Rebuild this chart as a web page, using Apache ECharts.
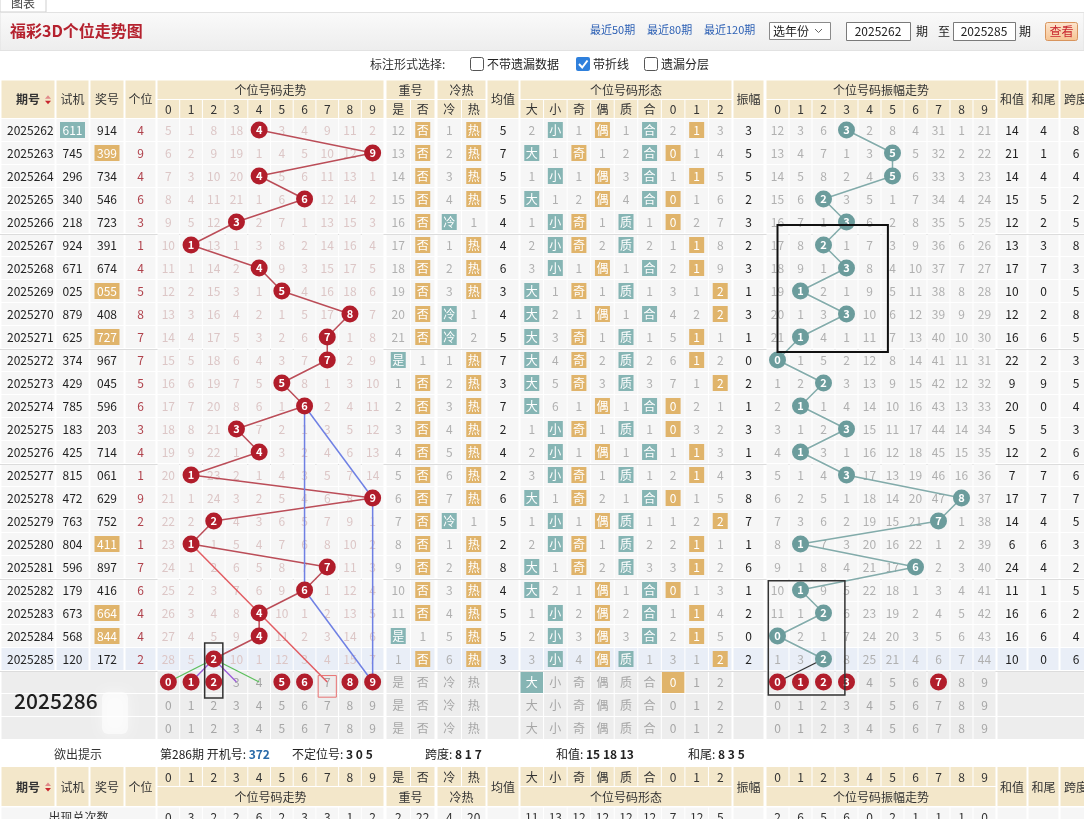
<!DOCTYPE html>
<html><head><meta charset="utf-8">
<script src="https://cdn.jsdelivr.net/npm/echarts@6/dist/echarts.min.js"></script>
<style>html,body{margin:0;padding:0;background:#fff}#c{width:1084px;height:819px}</style>
</head><body><div id="c"></div><script>
// ---------------- DATA ----------------
const periods = ['2025262','2025263','2025264','2025265','2025266','2025267','2025268','2025269','2025270','2025271','2025272','2025273','2025274','2025275','2025276','2025277','2025278','2025279','2025280','2025281','2025282','2025283','2025284','2025285'];
const shiji = ['611','745','296','340','218','924','671','025','879','625','374','429','785','183','425','815','472','763','804','596','179','673','568','120'];
const jianghao = ['914','399','734','546','723','391','674','055','408','727','967','045','596','203','714','061','629','752','411','897','416','664','844','172'];
const gewei = [4,9,4,6,3,1,4,5,8,7,7,5,6,3,4,1,9,2,1,7,6,4,4,2];
// trend omissions 0-9 (0 = drawn number)
const trendMiss = [
[5,1,8,18,0,3,4,9,11,2],[6,2,9,19,1,4,5,10,12,0],[7,3,10,20,0,5,6,11,13,1],[8,4,11,21,1,6,0,12,14,2],[9,5,12,0,2,7,1,13,15,3],
[10,0,13,1,3,8,2,14,16,4],[11,1,14,2,0,9,3,15,17,5],[12,2,15,3,1,0,4,16,18,6],[13,3,16,4,2,1,5,17,0,7],[14,4,17,5,3,2,6,0,1,8],
[15,5,18,6,4,3,7,0,2,9],[16,6,19,7,5,0,8,1,3,10],[17,7,20,8,6,1,0,2,4,11],[18,8,21,0,7,2,1,3,5,12],[19,9,22,1,0,3,2,4,6,13],
[20,0,23,2,1,4,3,5,7,14],[21,1,24,3,2,5,4,6,8,0],[22,2,0,4,3,6,5,7,9,1],[23,0,1,5,4,7,6,8,10,2],[24,1,2,6,5,8,7,0,11,3],
[25,2,3,7,6,9,0,1,12,4],[26,3,4,8,0,10,1,2,13,5],[27,4,5,9,0,11,2,3,14,6],[28,5,0,10,1,12,3,4,15,7]];
const repeatMiss = [[12,0],[13,0],[14,0],[15,0],[16,0],[17,0],[18,0],[19,0],[20,0],[21,0],[0,1],[1,0],[2,0],[3,0],[4,0],[5,0],[6,0],[7,0],[8,0],[9,0],[10,0],[11,0],[0,1],[1,0]];
const coldHotMiss = [[1,0],[2,0],[3,0],[4,0],[0,1],[1,0],[2,0],[3,0],[0,1],[0,2],[1,0],[2,0],[3,0],[4,0],[5,0],[6,0],[7,0],[0,1],[1,0],[2,0],[3,0],[4,0],[5,0],[6,0]];
const junzhi = [5,7,5,5,4,4,6,3,4,5,7,3,7,2,4,2,6,5,2,8,4,5,5,3];
const shapeMiss = [
[2,0,1,0,1,0,2,0,3],[0,1,0,1,2,0,0,1,4],[1,0,1,0,3,0,1,0,5],[0,1,2,0,4,0,0,1,6],[1,0,0,1,0,1,0,2,7],
[2,0,0,2,0,2,1,0,8],[3,0,1,0,1,0,2,0,9],[0,1,0,1,0,1,3,1,0],[0,2,1,0,1,0,4,2,0],[0,3,0,1,0,1,5,0,1],
[0,4,0,2,0,2,6,0,2],[0,5,0,3,0,3,7,1,0],[0,6,1,0,1,0,0,2,1],[1,0,0,1,0,1,0,3,2],[2,0,1,0,1,0,1,0,3],
[3,0,0,1,0,1,2,0,4],[0,1,0,2,1,0,0,1,5],[1,0,1,0,0,1,1,2,0],[2,0,0,1,0,2,2,0,1],[0,1,0,2,0,3,3,0,2],
[0,2,1,0,1,0,0,1,3],[1,0,2,0,2,0,1,0,4],[2,0,3,0,3,0,2,0,5],[3,0,4,0,0,1,3,1,0]];
const zhenfu = [3,5,5,2,3,2,3,1,3,1,0,2,1,3,1,3,8,7,1,6,1,2,0,2];
const ampMiss = [
[12,3,6,0,2,8,4,31,1,21],[13,4,7,1,3,0,5,32,2,22],[14,5,8,2,4,0,6,33,3,23],[15,6,0,3,5,1,7,34,4,24],[16,7,1,0,6,2,8,35,5,25],
[17,8,0,1,7,3,9,36,6,26],[18,9,1,0,8,4,10,37,7,27],[19,0,2,1,9,5,11,38,8,28],[20,1,3,0,10,6,12,39,9,29],[21,0,4,1,11,7,13,40,10,30],
[0,1,5,2,12,8,14,41,11,31],[1,2,0,3,13,9,15,42,12,32],[2,0,1,4,14,10,16,43,13,33],[3,1,2,0,15,11,17,44,14,34],[4,0,3,1,16,12,18,45,15,35],
[5,1,4,0,17,13,19,46,16,36],[6,2,5,1,18,14,20,47,0,37],[7,3,6,2,19,15,21,0,1,38],[8,0,7,3,20,16,22,1,2,39],[9,1,8,4,21,17,0,2,3,40],
[10,0,9,5,22,18,1,3,4,41],[11,1,0,6,23,19,2,4,5,42],[0,2,1,7,24,20,3,5,6,43],[1,3,0,8,25,21,4,6,7,44]];
const hezhi = [14,21,14,15,12,13,17,10,12,16,22,9,20,5,12,7,17,14,6,24,11,16,16,10];
const hewei = [4,1,4,5,2,3,7,0,2,6,2,9,0,5,2,7,7,4,6,4,1,6,6,0];
const kuadu = [8,6,4,2,5,8,3,5,8,5,3,5,4,3,6,6,7,5,3,2,5,2,4,6];
// labels
const digitLabels = ['0','1','2','3','4','5','6','7','8','9'];
const repLabels = ['是','否'];
const chLabels = ['冷','热'];
const shapeLabels = ['大','小','奇','偶','质','合','0','1','2'];
// prediction rows
const predPeriod = '2025286';
const predTrend = [0,1,2,5,6,8,9];
const predAmp = [0,1,2,3,7];
const predShape = [0,6];
// totals
const trendTotals = [0,3,2,2,6,2,3,3,1,2];
const repTotals = [2,22];
const chTotals = [4,20];
const shapeTotals = [11,13,12,12,12,12,7,12,5];
const ampTotals = [2,6,5,6,0,2,1,1,1,0];
// annotation links [digit,row]
const linksGreen = [[[2,23],[0,24]],[[2,23],[4,24]]];
const linksPurple = [[[2,23],[1,24]],[[2,23],[3,24]]];
const linksBlue = [[[6,12],[6,20]],[[6,12],[9,16]],[[9,16],[9,24]],[[6,20],[9,24]]];
const linksRed = [[[1,18],[7,24]]];
const linksAmp = [[[2,23],[0,24]]];
const boxesTrend = [[[1.6,22.3],[2.4,24.7]],[[6.6,23.72],[7.4,24.66]]];
const boxesAmp = [[[0,4.13],[4.8,9.65]],[[-0.4,19.6],[2.93,24.57]]];

// ---------------- STYLE / LAYOUT ----------------
const FONT = '"Noto Sans CJK SC","Noto Sans",sans-serif';
const TEAL = '#86b5b4', ORANGE = '#e0b46b', RED = '#b11d2b', TEALC = '#6b9c9c';
const CELL_BG = '#f6f6f6', HL_BG = '#e9eef7', PRED_BG = '#ededed', HEAD_BG = '#f3e7ca';
const MISS_T = '#dcc6c6', MISS_G = '#b0b0b0', PRED_G = '#a6a6a6';
const ROW_TOP = 118.5, ROW_H = 23, NROWS = 27;
const L = {qh:[1,55],sj:[56,89],jh:[90,124],gw:[125,156],trend:[157,384],rep:[386,435],ch:[437,486],jz:[487,519],shape:[520,732],amp:[733,764],ampT:[766,996],sum:[997,1027],tail:[1028,1059],span:[1060,1092]};
const repHit = [TEAL, ORANGE], chHit = [TEAL, ORANGE];
const shapeHit = [TEAL,TEAL,ORANGE,ORANGE,TEAL,TEAL,ORANGE,ORANGE,ORANGE];
function split(r, n){const w=(r[1]-r[0])/n;return Array.from({length:n},(_,k)=>[r[0]+k*w,r[0]+(k+1)*w]);}
const isPair = s => new Set(s.split('')).size < 3;

// ---------------- CELLS ----------------
const cells0 = [], cells1 = [], cells2 = [];
function addMissGroup(range, labels, hits, miss, row, bg){
  split(range, labels.length).forEach(([a,b],k)=>{
    const v = miss[k];
    cells0.push({x0:a,x1:b,row,text: v===0?labels[k]:v, color: v===0?'#fff':MISS_G, badge: v===0?hits[k]:null, bg});
  });
}
for (let i=0;i<periods.length;i++){
  const bg = i===periods.length-1 ? HL_BG : CELL_BG;
  cells0.push({x0:L.qh[0],x1:L.qh[1],row:i,text:periods[i],align:'left',color:'#222',bg});
  cells0.push({x0:L.sj[0],x1:L.sj[1],row:i,text:shiji[i],color:isPair(shiji[i])?'#fff':'#222',badge:isPair(shiji[i])?TEAL:null,badgeW:25,bg});
  cells0.push({x0:L.jh[0],x1:L.jh[1],row:i,text:jianghao[i],color:isPair(jianghao[i])?'#fff':'#222',badge:isPair(jianghao[i])?ORANGE:null,badgeW:25,bg});
  cells0.push({x0:L.gw[0],x1:L.gw[1],row:i,text:gewei[i],color:'#b0424c',bg});
  addMissGroup(L.rep, repLabels, repHit, repeatMiss[i], i, bg);
  addMissGroup(L.ch, chLabels, chHit, coldHotMiss[i], i, bg);
  cells0.push({x0:L.jz[0],x1:L.jz[1],row:i,text:junzhi[i],color:'#222',bg});
  addMissGroup(L.shape, shapeLabels, shapeHit, shapeMiss[i], i, bg);
  cells0.push({x0:L.amp[0],x1:L.amp[1],row:i,text:zhenfu[i],color:'#222',bg});
  cells0.push({x0:L.sum[0],x1:L.sum[1],row:i,text:hezhi[i],color:'#222',bg});
  cells0.push({x0:L.tail[0],x1:L.tail[1],row:i,text:hewei[i],color:'#222',bg});
  cells0.push({x0:L.span[0],x1:L.span[1],row:i,text:kuadu[i],color:'#222',bg});
  for (let d=0; d<10; d++){
    cells1.push({x0:d-0.5,x1:d+0.5,row:i,text:trendMiss[i][d]===0?'':trendMiss[i][d],color:MISS_T,bg});
    cells2.push({x0:d-0.5,x1:d+0.5,row:i,text:ampMiss[i][d]===0?'':ampMiss[i][d],color:MISS_G,bg});
  }
}
for (let r=24;r<27;r++){
  const bg = PRED_BG, first = r===24;
  cells0.push({x0:L.qh[0],x1:L.gw[1],row:r,text:'',bg});
  split(L.rep,2).forEach(([a,b],k)=>cells0.push({x0:a,x1:b,row:r,text:repLabels[k],color:PRED_G,bg}));
  split(L.ch,2).forEach(([a,b],k)=>cells0.push({x0:a,x1:b,row:r,text:chLabels[k],color:PRED_G,bg}));
  cells0.push({x0:L.jz[0],x1:L.jz[1],row:r,text:'',bg});
  split(L.shape,9).forEach(([a,b],k)=>{
    const hit = first && predShape.includes(k);
    cells0.push({x0:a,x1:b,row:r,text:shapeLabels[k],color:hit?'#fff':PRED_G,bg:hit?shapeHit[k]:bg});
  });
  cells0.push({x0:L.amp[0],x1:L.amp[1],row:r,text:'',bg});
  cells0.push({x0:L.sum[0],x1:L.span[1],row:r,text:'',bg});
  for (let d=0; d<10; d++){
    cells1.push({x0:d-0.5,x1:d+0.5,row:r,text:(first&&predTrend.includes(d))?'':d,color:PRED_G,bg});
    cells2.push({x0:d-0.5,x1:d+0.5,row:r,text:(first&&predAmp.includes(d))?'':d,color:PRED_G,bg});
  }
}
[4.5,9.5,14.5,19.5,23.5].forEach(y=>cells0.push({sep:true,x0:0,x1:1084,row:y}));

function cellSeries(items, gi){
  return {type:'custom', xAxisIndex:gi, yAxisIndex:gi, silent:true, z:1, clip:false,
    data: items.map(c=>[c.x0,c.row]),
    renderItem(params, api){
      const c = items[params.dataIndex];
      if (c.sep){
        const a = api.coord([c.x0,c.row]), b = api.coord([c.x1,c.row]);
        return {type:'line', shape:{x1:a[0],y1:Math.round(a[1])+0.5,x2:b[0],y2:Math.round(b[1])+0.5}, style:{stroke:'#dcdcdc',lineWidth:1}};
      }
      const p0 = api.coord([c.x0,c.row-0.5]), p1 = api.coord([c.x1,c.row+0.5]);
      const x=Math.min(p0[0],p1[0]), y=Math.min(p0[1],p1[1]);
      const w=Math.abs(p1[0]-p0[0]), h=Math.abs(p1[1]-p0[1]);
      const ch=[{type:'rect',shape:{x:x+0.5,y:y+0.5,width:w-1,height:h-1},style:{fill:c.bg}}];
      if (c.badge){const bw=c.badgeW||15; ch.push({type:'rect',shape:{x:x+w/2-bw/2,y:y+h/2-8,width:bw,height:16},style:{fill:c.badge}});}
      if (c.text!=='' && c.text!=null){
        ch.push({type:'text',style:{text:String(c.text),x:c.align==='left'?x+6:x+w/2,y:y+h/2+0.5,align:c.align||'center',verticalAlign:'middle',fill:c.color,fontSize:12,fontFamily:FONT}});
      }
      return {type:'group',children:ch};
    }};
}
function boxSeries(boxes, gi, styles){
  return {type:'custom', xAxisIndex:gi, yAxisIndex:gi, silent:true, z:6, clip:false,
    data: boxes.map(b=>b[0]),
    renderItem(params, api){
      const b = boxes[params.dataIndex], s = styles[params.dataIndex];
      const p0=api.coord(b[0]), p1=api.coord(b[1]);
      return {type:'rect',shape:{x:Math.min(p0[0],p1[0]),y:Math.min(p0[1],p1[1]),width:Math.abs(p1[0]-p0[0]),height:Math.abs(p1[1]-p0[1])},style:{fill:'none',stroke:s[0],lineWidth:s[1]}};
    }};
}
function linkSeries(links, gi, color, width){
  return links.map(seg=>({type:'line', xAxisIndex:gi, yAxisIndex:gi, data:seg, symbol:'none', silent:true, z:3,
    lineStyle:{color, width}}));
}
function circles(data, gi, color){
  return {type:'scatter', xAxisIndex:gi, yAxisIndex:gi, data, symbol:'circle', symbolSize:17, z:5, silent:true,
    itemStyle:{color, opacity:1},
    label:{show:true, position:'inside', formatter:p=>String(p.value[0]), color:'#fff', fontSize:11, fontWeight:'bold', fontFamily:FONT}};
}

const yAx = gi => ({type:'value', gridIndex:gi, inverse:true, min:-0.5, max:NROWS-0.5, show:false});
const series = [
  cellSeries(cells0,0), cellSeries(cells1,1), cellSeries(cells2,2),
  {type:'line', xAxisIndex:1, yAxisIndex:1, data:gewei.map((g,i)=>[g,i]), symbol:'none', silent:true, z:3, lineStyle:{color:'#bb4d58', width:1.5}},
  {type:'line', xAxisIndex:2, yAxisIndex:2, data:zhenfu.map((g,i)=>[g,i]), symbol:'none', silent:true, z:3, lineStyle:{color:'#82abaa', width:1.5}},
  ...linkSeries(linksGreen,1,'#5cbf5c',1.3),
  ...linkSeries(linksPurple,1,'#9a5ad8',1.3),
  ...linkSeries(linksBlue,1,'#6f80e4',1.5),
  ...linkSeries(linksRed,1,'#e25c62',1.5),
  ...linkSeries(linksAmp,2,'#333',1.3),
  circles(gewei.map((g,i)=>[g,i]),1,RED),
  circles(predTrend.map(d=>[d,24]),1,RED),
  circles(zhenfu.map((g,i)=>[g,i]),2,TEALC),
  circles(predAmp.map(d=>[d,24]),2,RED),
  boxSeries(boxesTrend,1,[['#333',1.5],['#e87272',1]]),
  boxSeries(boxesAmp,2,[['#111',2],['#333',1.5]])
];

// ---------------- GRAPHIC (header / controls) ----------------
const G = [];
const txt = (x,y,t,o={}) => G.push({type:'text', z:o.z||10, style:Object.assign({text:t,x,y,fontSize:12,fontFamily:FONT,fill:'#333',align:'left',verticalAlign:'middle'},o.s||{})});
const rct = (x,y,w,h,style,z) => G.push({type:'rect', z:z||9, shape:{x,y,width:w,height:h,r:style.r||0}, style});
function hcell(a,b,y0,y1,t,bold){
  rct(a+0.5,y0+0.5,b-a-1,y1-y0-1,{fill:HEAD_BG});
  if (t!=='') txt((a+b)/2,(y0+y1)/2+0.5,t,{s:{align:'center',fontWeight:bold?'bold':'normal'}});
}
function sortIcon(x,yc){
  G.push({type:'polygon',z:11,shape:{points:[[x,yc-1],[x+6,yc-1],[x+3,yc-4.5]]},style:{fill:'#e08a8a'}});
  G.push({type:'polygon',z:11,shape:{points:[[x,yc+1],[x+6,yc+1],[x+3,yc+4.5]]},style:{fill:'#c8262e'}});
}
function header(y0,ym,y1,titlesTop){
  const tY = titlesTop?[y0,ym]:[ym,y1], lY = titlesTop?[ym,y1]:[y0,ym];
  hcell(L.qh[0],L.qh[1],y0,y1,'',true);
  txt(28,(y0+y1)/2+0.5,'期号',{s:{align:'center',fontWeight:'bold'}});
  sortIcon(45,(y0+y1)/2+0.5);
  hcell(L.sj[0],L.sj[1],y0,y1,'试机'); hcell(L.jh[0],L.jh[1],y0,y1,'奖号'); hcell(L.gw[0],L.gw[1],y0,y1,'个位');
  hcell(L.trend[0],L.trend[1],tY[0],tY[1],'个位号码走势');
  split(L.trend,10).forEach(([a,b],k)=>hcell(a,b,lY[0],lY[1],digitLabels[k]));
  hcell(L.rep[0],L.rep[1],tY[0],tY[1],'重号');
  split(L.rep,2).forEach(([a,b],k)=>hcell(a,b,lY[0],lY[1],repLabels[k]));
  hcell(L.ch[0],L.ch[1],tY[0],tY[1],'冷热');
  split(L.ch,2).forEach(([a,b],k)=>hcell(a,b,lY[0],lY[1],chLabels[k]));
  hcell(L.jz[0],L.jz[1],y0,y1,'均值');
  hcell(L.shape[0],L.shape[1],tY[0],tY[1],'个位号码形态');
  split(L.shape,9).forEach(([a,b],k)=>hcell(a,b,lY[0],lY[1],shapeLabels[k]));
  hcell(L.amp[0],L.amp[1],y0,y1,'振幅');
  hcell(L.ampT[0],L.ampT[1],tY[0],tY[1],'个位号码振幅走势');
  split(L.ampT,10).forEach(([a,b],k)=>hcell(a,b,lY[0],lY[1],digitLabels[k]));
  hcell(L.sum[0],L.sum[1],y0,y1,'和值'); hcell(L.tail[0],L.tail[1],y0,y1,'和尾'); hcell(L.span[0],L.span[1],y0,y1,'跨度');
}
// tab + title bar
rct(0,-4,46,16,{fill:'#fff',stroke:'#cfcfcf'});
txt(23,3,'图表',{s:{align:'center',fill:'#444'}});
rct(0,12.5,1084,38,{fill:new echarts.graphic.LinearGradient(0,0,0,1,[{offset:0,color:'#fafafa'},{offset:1,color:'#ededed'}]),stroke:'#e2e2e2'});
txt(10,31,'福彩3D个位走势图',{s:{fontSize:16,fontWeight:'bold',fill:'#b5222f'}});
txt(590,30,'最近50期',{s:{fontSize:11,fill:'#2b5fb4'}});
txt(647,30,'最近80期',{s:{fontSize:11,fill:'#2b5fb4'}});
txt(704,30,'最近120期',{s:{fontSize:11,fill:'#2b5fb4'}});
rct(769.5,22.5,61,17,{fill:'#fff',stroke:'#8a8a8a'});
txt(773,31,'选年份',{s:{fontSize:12,fill:'#222'}});
G.push({type:'polyline',z:11,shape:{points:[[815,29],[818.5,32.5],[822,29]]},style:{stroke:'#666',lineWidth:1,fill:'none'}});
rct(846.5,22.5,64,18,{fill:'#fff',stroke:'#7a7a7a'});
txt(878,31.5,'2025262',{s:{align:'center',fill:'#222'}});
txt(916,31,'期',{s:{fill:'#222'}});
txt(938,31,'至',{s:{fill:'#222'}});
rct(953.5,22.5,62,18,{fill:'#fff',stroke:'#7a7a7a'});
txt(984,31.5,'2025285',{s:{align:'center',fill:'#222'}});
txt(1019,31,'期',{s:{fill:'#222'}});
rct(1045.5,22.5,32,18,{fill:new echarts.graphic.LinearGradient(0,0,0,1,[{offset:0,color:'#fde6cf'},{offset:1,color:'#f6c391'}]),stroke:'#d8955e',r:2});
txt(1061.5,31.5,'查看',{s:{align:'center',fill:'#c8262e'}});
// options row
txt(370,64,'标注形式选择:',{s:{fill:'#333'}});
rct(470.5,57.5,13,13,{fill:'#fff',stroke:'#555',r:2});
txt(487,64,'不带遗漏数据',{s:{fill:'#222'}});
rct(576,57,14,14,{fill:'#2f80dc',r:2});
G.push({type:'polyline',z:11,shape:{points:[[579,64],[582.2,67.5],[587.5,60.5]]},style:{stroke:'#fff',lineWidth:2,fill:'none'}});
txt(593,64,'带折线',{s:{fill:'#222'}});
rct(644.5,57.5,13,13,{fill:'#fff',stroke:'#555',r:2});
txt(661,64,'遗漏分层',{s:{fill:'#222'}});
// headers
header(80,99.5,118.5,true);
header(766.5,786.5,806.5,false);
// prediction overlay label
G.push({type:'rect',z:20,shape:{x:102,y:692,width:26,height:42,r:6},style:{fill:'rgba(255,255,255,0.55)',shadowBlur:14,shadowColor:'rgba(255,255,255,1)'}});
txt(14,701,predPeriod,{z:21,s:{fontSize:21,fill:'#1e1e1e',fontWeight:500}});
// tip row
txt(78,754,'欲出提示',{s:{align:'center',fill:'#333'}});
G.push({type:'text',z:10,style:{text:'第286期 开机号: {b|372}',x:160,y:754,verticalAlign:'middle',fontSize:12,fontFamily:FONT,fill:'#222',rich:{b:{fontSize:12,fontFamily:FONT,fontWeight:'bold',fill:'#2a6aa8'}}}});
G.push({type:'text',z:10,style:{text:'不定位号: {b|3 0 5}',x:292,y:754,verticalAlign:'middle',fontSize:12,fontFamily:FONT,fill:'#222',rich:{b:{fontSize:12,fontFamily:FONT,fontWeight:'bold',fill:'#222'}}}});
G.push({type:'text',z:10,style:{text:'跨度: {b|8 1 7}',x:425,y:754,verticalAlign:'middle',fontSize:12,fontFamily:FONT,fill:'#222',rich:{b:{fontSize:12,fontFamily:FONT,fontWeight:'bold',fill:'#222'}}}});
G.push({type:'text',z:10,style:{text:'和值: {b|15 18 13}',x:556,y:754,verticalAlign:'middle',fontSize:12,fontFamily:FONT,fill:'#222',rich:{b:{fontSize:12,fontFamily:FONT,fontWeight:'bold',fill:'#222'}}}});
G.push({type:'text',z:10,style:{text:'和尾: {b|8 3 5}',x:688,y:754,verticalAlign:'middle',fontSize:12,fontFamily:FONT,fill:'#222',rich:{b:{fontSize:12,fontFamily:FONT,fontWeight:'bold',fill:'#222'}}}});
// totals row
const TY0 = 807, TY1 = 830;
function tcell(a,b,t){rct(a+0.5,TY0+0.5,b-a-1,TY1-TY0-1,{fill:CELL_BG}); if(t!=='') txt((a+b)/2,TY0+10,String(t),{s:{align:'center',fill:'#333'}});}
tcell(L.qh[0],L.gw[1],'出现总次数');
split(L.trend,10).forEach(([a,b],k)=>tcell(a,b,trendTotals[k]));
split(L.rep,2).forEach(([a,b],k)=>tcell(a,b,repTotals[k]));
split(L.ch,2).forEach(([a,b],k)=>tcell(a,b,chTotals[k]));
tcell(L.jz[0],L.jz[1],'');
split(L.shape,9).forEach(([a,b],k)=>tcell(a,b,shapeTotals[k]));
tcell(L.amp[0],L.amp[1],'');
split(L.ampT,10).forEach(([a,b],k)=>tcell(a,b,ampTotals[k]));
tcell(L.sum[0],L.sum[1],''); tcell(L.tail[0],L.tail[1],''); tcell(L.span[0],L.span[1],'');

const chart = echarts.init(document.getElementById('c'), null, {renderer:'canvas'});
chart.setOption({
  animation:false,
  backgroundColor:'#fff',
  grid:[
    {left:0, top:ROW_TOP, width:1084, height:NROWS*ROW_H},
    {left:157, top:ROW_TOP, width:227, height:NROWS*ROW_H},
    {left:766, top:ROW_TOP, width:230, height:NROWS*ROW_H}
  ],
  xAxis:[
    {type:'value', gridIndex:0, min:0, max:1084, show:false},
    {type:'value', gridIndex:1, min:-0.5, max:9.5, show:false},
    {type:'value', gridIndex:2, min:-0.5, max:9.5, show:false}
  ],
  yAxis:[yAx(0), yAx(1), yAx(2)],
  graphic: G,
  series
});
</script></body></html>
